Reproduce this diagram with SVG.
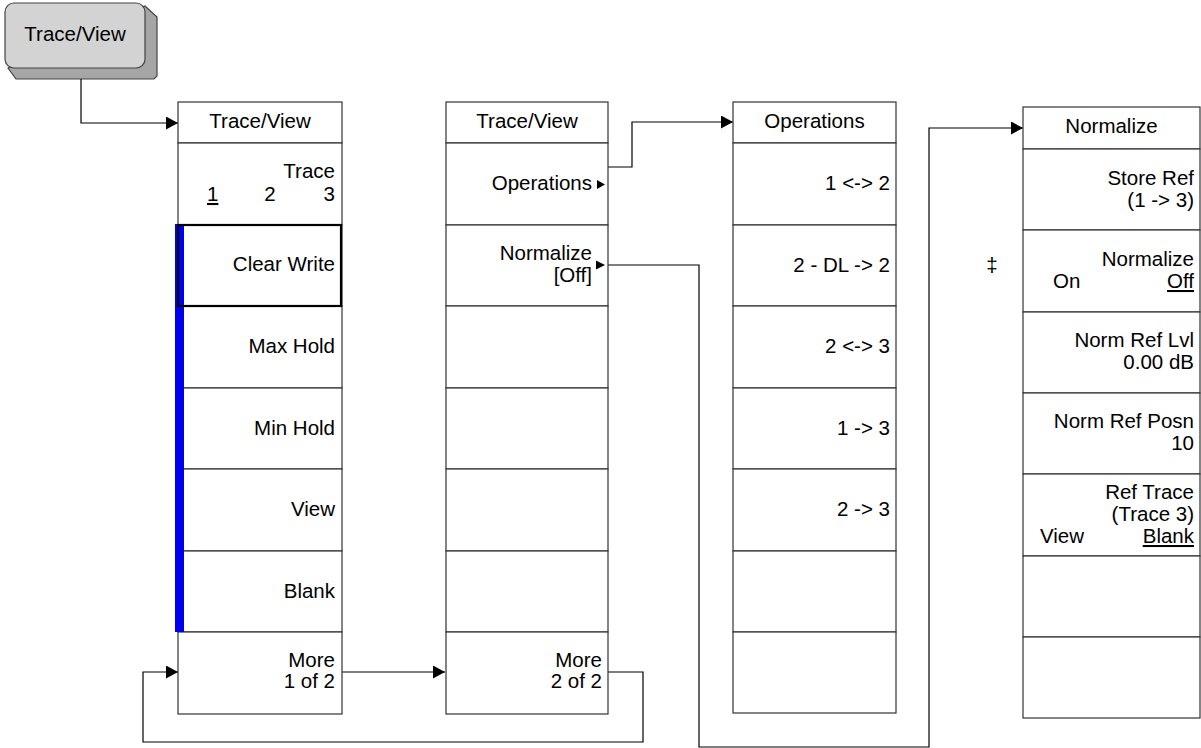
<svg xmlns="http://www.w3.org/2000/svg" width="1201" height="748" viewBox="0 0 1201 748">
<style>
  text { font-family: "Liberation Sans", Arial, sans-serif; font-size: 20.5px; fill: #000; }
  .r { text-anchor: end; }
  .c { text-anchor: middle; }
  .u { text-decoration: underline; }
  .cell { fill: #fff; stroke: #333; stroke-width: 1.2; }
  .conn { fill: none; stroke: #000; stroke-width: 1.2; }
  .tri { fill: #000; }
</style>
<defs>
  <marker id="arr" markerUnits="userSpaceOnUse" markerWidth="13" markerHeight="13" refX="12" refY="6.5" orient="auto">
    <path d="M0,0 L12,6.5 L0,13 Z" fill="#000"/>
  </marker>
</defs>
<rect width="1201" height="748" fill="#fff"/>

<g id="hardkey">
  <path d="M145,6 L157,17 L157,76 L154,79 L16,79 L8,68 Z" fill="#a6a6a6" stroke="#444" stroke-width="1.2"/>
  <rect x="5" y="3" width="140" height="65" rx="9" ry="9" fill="#d3d3d3" stroke="#444" stroke-width="1.2"/>
  <text class="c" x="75" y="41">Trace/View</text>
</g>

<g id="connectors">
  <path class="conn" d="M81,79 V123 H178" marker-end="url(#arr)"/>
  <path class="conn" d="M342,672 H445" marker-end="url(#arr)"/>
  <path class="conn" d="M608,672 H643 V742 H143 V672 H178" marker-end="url(#arr)"/>
  <path class="conn" d="M608,167 H632 V122 H733" marker-end="url(#arr)"/>
  <path class="conn" d="M605,265 H699 V747 H929 V128 H1023" marker-end="url(#arr)"/>
</g>

<g id="menu1">
  <rect class="cell" x="178" y="102" width="164" height="41"/>
  <rect class="cell" x="178" y="143" width="164" height="82"/>
  <rect class="cell" x="178" y="225" width="164" height="81"/>
  <rect class="cell" x="178" y="306" width="164" height="82"/>
  <rect class="cell" x="178" y="388" width="164" height="81"/>
  <rect class="cell" x="178" y="469" width="164" height="82"/>
  <rect class="cell" x="178" y="551" width="164" height="81"/>
  <rect class="cell" x="178" y="632" width="164" height="82"/>
  <rect x="175" y="224" width="9" height="408" fill="#0000ee"/>
  <rect x="178" y="225" width="163" height="81" fill="none" stroke="#000" stroke-width="2.2"/>
  <text class="c" x="260" y="128">Trace/View</text>
  <text class="r" x="335" y="178">Trace</text>
  <text class="u" x="207" y="201">1</text>
  <text class="c" x="270" y="201">2</text>
  <text class="r" x="335" y="201">3</text>
  <text class="r" x="335" y="271">Clear Write</text>
  <text class="r" x="335" y="353">Max Hold</text>
  <text class="r" x="335" y="435">Min Hold</text>
  <text class="r" x="335" y="516">View</text>
  <text class="r" x="335" y="598">Blank</text>
  <text class="r" x="335" y="667">More</text>
  <text class="r" x="335" y="688">1 of 2</text>
</g>

<g id="menu2">
  <rect class="cell" x="446" y="102" width="162" height="41"/>
  <rect class="cell" x="446" y="143" width="162" height="82"/>
  <rect class="cell" x="446" y="225" width="162" height="81"/>
  <rect class="cell" x="446" y="306" width="162" height="82"/>
  <rect class="cell" x="446" y="388" width="162" height="81"/>
  <rect class="cell" x="446" y="469" width="162" height="82"/>
  <rect class="cell" x="446" y="551" width="162" height="81"/>
  <rect class="cell" x="446" y="632" width="162" height="82"/>
  <text class="c" x="527" y="128">Trace/View</text>
  <text class="r" x="592" y="190">Operations</text>
  <path class="tri" d="M597,180 L605,184.5 L597,189 Z"/>
  <text class="r" x="592" y="260">Normalize</text>
  <text class="r" x="592" y="282">[Off]</text>
  <path class="tri" d="M596,260.5 L605,265 L596,269.5 Z"/>
  <text class="r" x="602" y="667">More</text>
  <text class="r" x="602" y="688">2 of 2</text>
</g>

<g id="menu3">
  <rect class="cell" x="733" y="102" width="163" height="41"/>
  <rect class="cell" x="733" y="143" width="163" height="82"/>
  <rect class="cell" x="733" y="225" width="163" height="81"/>
  <rect class="cell" x="733" y="306" width="163" height="82"/>
  <rect class="cell" x="733" y="388" width="163" height="81"/>
  <rect class="cell" x="733" y="469" width="163" height="82"/>
  <rect class="cell" x="733" y="551" width="163" height="81"/>
  <rect class="cell" x="733" y="632" width="163" height="81"/>
  <text class="c" x="814.5" y="128">Operations</text>
  <text class="r" x="890" y="190">1 &lt;-&gt; 2</text>
  <text class="r" x="890" y="272">2 - DL -&gt; 2</text>
  <text class="r" x="890" y="353">2 &lt;-&gt; 3</text>
  <text class="r" x="890" y="435">1 -&gt; 3</text>
  <text class="r" x="890" y="516">2 -&gt; 3</text>
</g>

<g id="menu4">
  <rect class="cell" x="1023" y="107" width="177" height="42"/>
  <rect class="cell" x="1023" y="149" width="177" height="81"/>
  <rect class="cell" x="1023" y="230" width="177" height="82"/>
  <rect class="cell" x="1023" y="312" width="177" height="81"/>
  <rect class="cell" x="1023" y="393" width="177" height="81"/>
  <rect class="cell" x="1023" y="474" width="177" height="82"/>
  <rect class="cell" x="1023" y="556" width="177" height="81"/>
  <rect class="cell" x="1023" y="637" width="177" height="81"/>
  <text class="c" x="1111.5" y="133">Normalize</text>
  <text class="r" x="1194" y="185">Store Ref</text>
  <text class="r" x="1194" y="207">(1 -&gt; 3)</text>
  <text class="c" x="992" y="272">‡</text>
  <text class="r" x="1194" y="266">Normalize</text>
  <text x="1053" y="288">On</text>
  <text class="r u" x="1194" y="288">Off</text>
  <text class="r" x="1194" y="347">Norm Ref Lvl</text>
  <text class="r" x="1194" y="369">0.00 dB</text>
  <text class="r" x="1194" y="428">Norm Ref Posn</text>
  <text class="r" x="1194" y="450">10</text>
  <text class="r" x="1194" y="499">Ref Trace</text>
  <text class="r" x="1194" y="521">(Trace 3)</text>
  <text x="1040" y="543">View</text>
  <text class="r u" x="1194" y="543">Blank</text>
</g>
</svg>
